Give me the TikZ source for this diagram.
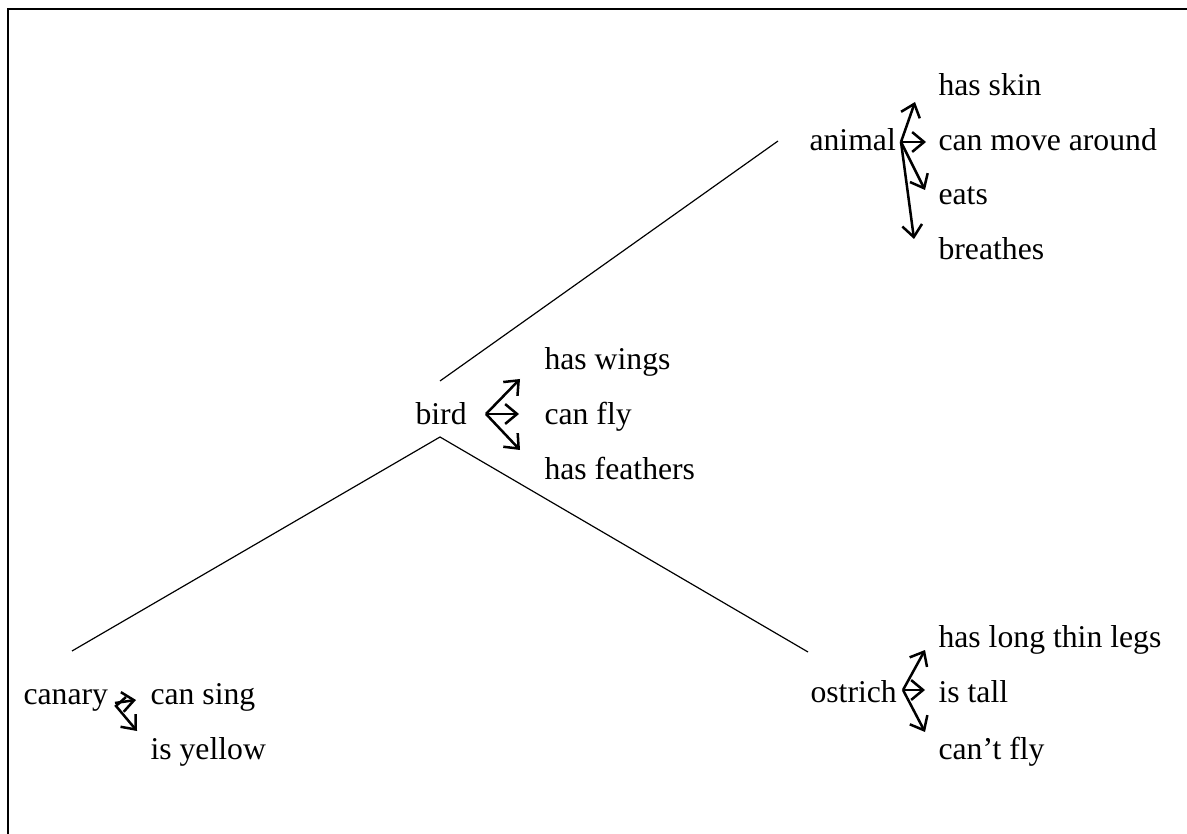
\documentclass[tikz,border=0pt]{standalone}
\usepackage{fontspec}
\setmainfont{Liberation Serif}
\usetikzlibrary{arrows.meta}
\begin{document}
\begin{tikzpicture}[x=0.3785pt, y=-0.3785pt,
  lbl/.style={anchor=base west, inner sep=0pt, font=\fontsize{12}{14}\selectfont},
  link/.style={line width=0.45pt},
  prop/.style={line width=0.95pt, -{Straight Barb[length=4.5pt,width=7.5pt,line width=0.95pt]}},
  frame/.style={line width=1.1pt}]
\useasboundingbox (0,0) rectangle (1187,834);
% open frame: top and left edges only
\draw[frame] (1187,9) -- (8,9) -- (8,834);

% concept nodes
\node[lbl] (animal)  at (809,151) {animal};
\node[lbl] (bird)    at (415,425) {bird};
\node[lbl] (canary)  at (23,704)  {canary};
\node[lbl] (ostrich) at (810,702) {ostrich};

% property nodes
\node[lbl] (skin)    at (938,96)  {has skin};
\node[lbl] (move)    at (938,151) {can move around};
\node[lbl] (eats)    at (938,205) {eats};
\node[lbl] (breath)  at (938,260) {breathes};

\node[lbl] (wings)   at (544,370) {has wings};
\node[lbl] (fly)     at (544,425) {can fly};
\node[lbl] (feath)   at (544,480) {has feathers};

\node[lbl] (sing)    at (150,704) {can sing};
\node[lbl] (yellow)  at (150,759) {is yellow};

\node[lbl] (legs)    at (938,647) {has long thin legs};
\node[lbl] (tall)    at (938,702) {is tall};
\node[lbl] (cantfly) at (938,759) {can’t fly};

% hierarchy link ends
\coordinate (animalL) at (778,141);
\coordinate (birdT)   at (440,381);
\coordinate (birdB)   at (440,437);
\coordinate (canaryT) at (72,651);
\coordinate (ostrT)   at (808,652);

\draw[link] (animalL) -- (birdT);
\draw[link] (canaryT) -- (birdB) -- (ostrT);

% property arrows of animal
\coordinate (aO) at (901,142);
\coordinate (aS) at (915,102);
\coordinate (aM) at (926,142);
\coordinate (aE) at (925,190);
\coordinate (aB) at (914,239);
\draw[prop] (aO) -- (aS);
\draw[prop] (aO) -- (aM);
\draw[prop] (aO) -- (aE);
\draw[prop] (aO) -- (aB);

% property arrows of bird
\coordinate (bO) at (486,414);
\coordinate (bW) at (520,379);
\coordinate (bF) at (519,414);
\coordinate (bH) at (520,450);
\draw[prop] (bO) -- (bW);
\draw[prop] (bO) -- (bF);
\draw[prop] (bO) -- (bH);

% property arrows of canary
\coordinate (cO)  at (115,703);
\coordinate (cS)  at (136,700);
\coordinate (cK1) at (126,697);
\coordinate (cK2) at (116,706);
\coordinate (cY)  at (137,731);
\draw[prop] (cO) -- (cS);
\draw[prop] (cK1) -- (cK2) -- (cY);

% property arrows of ostrich
\coordinate (oO) at (903,690);
\coordinate (oL) at (925,650);
\coordinate (oT) at (925,690);
\coordinate (oC) at (925,732);
\draw[prop] (oO) -- (oL);
\draw[prop] (oO) -- (oT);
\draw[prop] (oO) -- (oC);
\end{tikzpicture}
\end{document}
